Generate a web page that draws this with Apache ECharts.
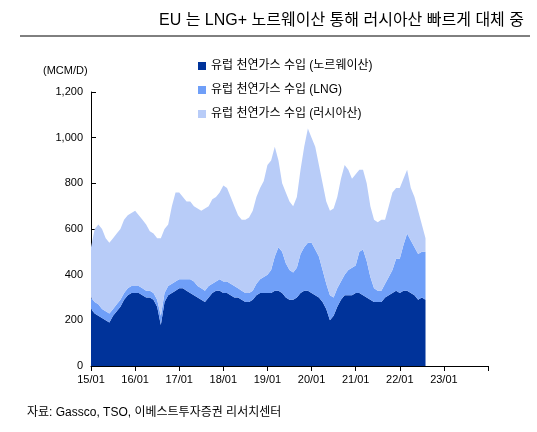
<!DOCTYPE html>
<html><head><meta charset="utf-8">
<script src="https://cdn.jsdelivr.net/npm/echarts@6/dist/echarts.min.js"></script>
<style>body{margin:0}#c{width:537px;height:432px}</style></head>
<body><div id="c"></div>
<script>
// monthly values, 2015/01 - 2022/08 (MCM/D)
const norway = [250,230,220,210,200,190,220,240,260,290,310,320,
  320,320,310,300,300,290,260,180,280,310,320,330,
  340,340,330,320,310,300,290,280,300,320,330,330,
  320,320,310,300,300,290,280,280,290,310,320,320,
  320,320,330,330,320,300,290,290,300,320,330,330,
  320,310,300,280,250,200,220,260,290,310,310,310,
  320,320,310,300,290,280,280,280,300,310,320,330,
  320,330,330,320,310,290,300,290];
const lng = [50,50,50,40,40,40,30,30,30,30,30,30,
  30,30,30,30,30,30,30,40,40,40,40,40,
  40,40,50,60,60,50,50,50,50,40,40,50,
  50,50,50,50,40,40,40,40,40,50,60,70,
  80,100,150,190,180,150,130,120,130,170,190,210,
  220,200,180,140,110,110,80,80,80,90,110,120,
  120,180,200,160,100,60,50,50,60,80,100,140,
  150,200,250,230,210,200,200,210];
const russia = [220,320,350,350,320,310,310,310,310,320,320,320,
  330,310,300,290,260,260,270,340,280,270,340,390,
  380,360,340,340,330,340,340,360,350,370,370,380,
  420,410,380,350,320,310,320,330,350,380,400,420,
  480,480,480,380,300,310,300,290,310,370,440,500,
  460,450,400,380,360,370,390,400,450,480,440,390,
  400,360,350,340,310,300,300,310,280,310,340,310,
  310,290,280,230,220,190,120,60];
const names = ['유럽 천연가스 수입 (노르웨이산)','유럽 천연가스 수입 (LNG)','유럽 천연가스 수입 (러시아산)'];
const colors = ['#00339A','#6F9FF8','#B8CCF8'];

const months = [];
for (let y = 15; y <= 24; y++) for (let m = 1; m <= 12; m++) {
  if (y === 24 && m > 1) break;
  months.push(y + '/' + String(m).padStart(2,'0'));
}

const chart = echarts.init(document.getElementById('c'));
const font = 'Liberation Sans, Noto Sans CJK KR, sans-serif';
chart.setOption({
  animation: false,
  textStyle: {fontFamily: font},
  title: [
    {text: 'EU 는 LNG+ 노르웨이산 통해 러시아산 빠르게 대체 중', right: 8, top: 8,
     textStyle: {fontSize: 16, fontWeight: 'normal', color: '#000', fontFamily: font}},
    {text: '(MCM/D)', left: 38, top: 60, textStyle: {fontSize: 11, fontWeight: 'normal', color: '#000'}},
    {text: '자료: Gassco, TSO, 이베스트투자증권 리서치센터', left: 22, top: 402,
     textStyle: {fontSize: 12, fontWeight: 'normal', color: '#000'}}
  ],
  graphic: [{type: 'line', shape: {x1: 20, y1: 36, x2: 530, y2: 36}, style: {stroke: '#000', lineWidth: 1}}],
  legend: {orient: 'vertical', left: 193, top: 55, itemGap: 12, itemWidth: 8, itemHeight: 8,
    icon: 'rect', textStyle: {fontSize: 12, color: '#000'}, data: names},
  grid: {left: 91, right: 49, top: 92, bottom: 66},
  xAxis: {type: 'category', data: months, boundaryGap: false,
    axisLine: {lineStyle: {color: '#000'}},
    axisTick: {interval: 11, lineStyle: {color: '#000'}},
    axisLabel: {interval: 11, color: '#000', fontSize: 11,
      formatter: v => v.startsWith('24') ? '' : v}},
  yAxis: {type: 'value', min: 0, max: 1200, interval: 200,
    axisLine: {show: true, lineStyle: {color: '#000'}},
    axisTick: {show: true, inside: true, lineStyle: {color: '#000'}},
    splitLine: {show: false},
    axisLabel: {color: '#000', fontSize: 11, formatter: v => v.toLocaleString('en-US')}},
  series: [norway, lng, russia].map((d, i) => ({
    name: names[i], type: 'line', stack: 'all', data: d, symbol: 'none',
    lineStyle: {width: 0}, itemStyle: {color: colors[i]},
    areaStyle: {color: colors[i], opacity: 1}
  }))
});
</script></body></html>
